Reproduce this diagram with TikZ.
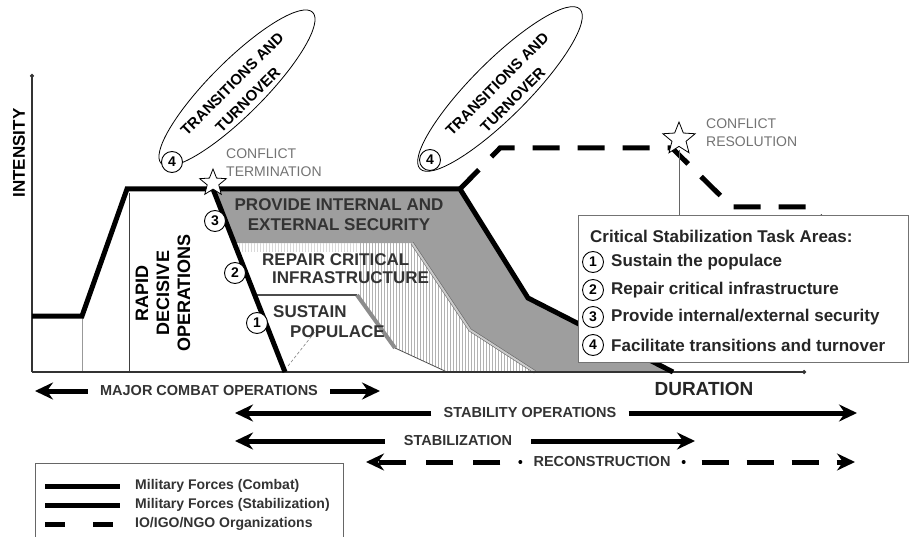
\documentclass[tikz,border=0pt]{standalone}
\usepackage{fontspec}
\setmainfont{Liberation Sans}
\usetikzlibrary{arrows.meta,shapes.geometric}

\tikzset{
  thickforce/.style={line width=5pt, line join=miter},
  ngoline/.style={line width=5pt, dash pattern=on 27pt off 18pt},
  numcirc/.style={circle, draw, line width=0.9pt, fill=white, inner sep=0pt, minimum size=21pt, font=\fontsize{14}{14}\selectfont\bfseries},
  bandtext/.style={font=\fontsize{17}{20}\selectfont\bfseries, text=black!80, align=center, inner sep=0pt},
  tto/.style={ellipse, draw, line width=0.8pt, rotate=45, minimum width=214pt, minimum height=54pt},
  ttotext/.style={rotate=45, align=center, font=\fontsize{15}{22}\selectfont\bfseries},
  conflict/.style={align=left, text=black!55, font=\fontsize{14}{18}\selectfont, anchor=west, inner sep=0pt},
  starmark/.style={star, star points=5, star point ratio=2.3, draw, line width=0.8pt, fill=white, inner sep=0pt},
  spanarrow/.style={line width=5pt, -{Stealth[length=18pt,width=17pt,inset=6pt]}},
  spanlabel/.style={font=\fontsize{14.5}{14.5}\selectfont\bfseries, text=black!80, inner xsep=12pt},
  keytext/.style={anchor=west, inner sep=0pt, font=\fontsize{17}{17}\selectfont\bfseries, text=black!85},
  forcetext/.style={anchor=west, inner sep=0pt, font=\fontsize{14}{14}\selectfont\bfseries, text=black!80},
}

\begin{document}
\begin{tikzpicture}[x=1pt, y=-1pt]
    \useasboundingbox (0,0) rectangle (909,537);

    % task bands
    \fill[black!38] (213,189) -- (460,189) -- (528,298) -- (673,372) -- (535,372) -- (470,330) -- (412,243) -- (234,243) -- cycle;
    \begin{scope}
        \clip (234,243) -- (412,243) -- (470,330) -- (535,372) -- (447,372) -- (395,348) -- (357,295) -- (255,295) -- cycle;
        \foreach \x in {360,363,...,536}
            \draw[black!30, line width=0.6pt] (\x,240) -- (\x,375);
        \foreach \x in {236,239,...,358}
            \draw[black!15, line width=0.5pt] (\x,243) -- (\x,252);
    \end{scope}
    \draw[draw=black!60, double=black!20, double distance=2pt, line width=0.6pt] (412,243) -- (470,330) -- (535,372);
    \fill[white] (255,295) -- (357,295) -- (395,348) -- (447,372) -- (285,372) -- cycle;
    \draw[black!70, line width=1.2pt] (255,295) -- (357,295);
    \draw[black!45, line width=4pt] (357,295) -- (395,348);
    \draw[black!70, line width=0.8pt] (395,348) -- (447,372);
    \draw[black!50, densely dashed, line width=0.6pt] (288,366) -- (318,328);

    % axes
    \coordinate (origin) at (32,372);
    \coordinate (ytop) at (32,74);
    \coordinate (xend) at (806,372);
    \draw[black!40, line width=0.8pt] (82,318) -- (82,372);
    \draw[black!75, line width=0.9pt] (129,193) -- (129,372);
    \draw[line width=1.2pt, black!80, -{Circle[length=4pt]}] (origin) -- (ytop);
    \draw[line width=1.2pt, black!80, -{Circle[length=4pt]}] (origin) -- (xend);
    \node[rotate=90, font=\fontsize{17}{17}\selectfont\bfseries] (intensity) at (19,153) {INTENSITY};
    \node[font=\fontsize{19}{19}\selectfont\bfseries, text=black!85] (duration) at (704,389) {DURATION};

    % forces
    \draw[thickforce] (32,316) -- (82,316) -- (127,189) -- (213,189) -- (285,372);
    \draw[thickforce] (213,189) -- (460,189) -- (528,298) -- (673,372);
    \draw[ngoline] (460,189) -- (500,148) -- (672,148) -- (732,207) -- (812,207) -- (840,240);

    % conflict marks
    \coordinate (resfoot) at (679,300);
    \draw[black!60, line width=0.8pt] (679,150) -- (resfoot);
    \node[starmark, minimum size=28pt] (cterm) at (213,183) {};
    \node[starmark, minimum size=34pt] (cres) at (679,139) {};
    \node[conflict] (ctermlabel) at (226,163) {CONFLICT\\TERMINATION};
    \node[conflict] (creslabel) at (706,133) {CONFLICT\\RESOLUTION};

    % transitions and turnover
    \node[tto] (tto1) at (237,88) {};
    \node[ttotext] (ttotext1) at (240,92) {TRANSITIONS AND\\TURNOVER};
    \node[numcirc] (four1) at (172,162) {4};
    \node[tto, minimum width=226pt, minimum height=56pt] (tto2) at (500,89) {};
    \node[ttotext] (ttotext2) at (505,92) {TRANSITIONS AND\\TURNOVER};
    \node[numcirc] (four2) at (430,160) {4};

    % band labels
    \node[numcirc] (three) at (215,221) {3};
    \node[numcirc] (two) at (235,273) {2};
    \node[numcirc] (one) at (257,323) {1};
    \node[bandtext] (security) at (339,215) {PROVIDE INTERNAL AND\\EXTERNAL SECURITY};
    \node[bandtext, align=left, anchor=west, font=\fontsize{17}{18}\selectfont\bfseries] (infra) at (262,269) {REPAIR CRITICAL\\\hspace{10pt}INFRASTRUCTURE};
    \node[bandtext, align=left, anchor=west] (populace) at (273,322) {SUSTAIN\\\hspace{17pt}POPULACE};
    \node[rotate=90, align=center, font=\fontsize{18}{21}\selectfont\bfseries] (rdo) at (163,293) {RAPID\\DECISIVE\\OPERATIONS};

    % task key
    \node[draw=black!55, line width=1pt, fill=white, minimum width=330pt, minimum height=147pt, anchor=north west, inner sep=0pt] (tasks) at (578,215) {};
    \node[keytext] (taskstitle) at (590,236) {Critical Stabilization Task Areas:};
    \node[numcirc] (k1) at (593,262) {1};
    \node[keytext] at (611,262) {Sustain the populace};
    \node[numcirc] (k2) at (593,290) {2};
    \node[keytext] at (611,290) {Repair critical infrastructure};
    \node[numcirc] (k3) at (593,317) {3};
    \node[keytext] at (611,317) {Provide internal/external security};
    \node[numcirc] (k4) at (593,345) {4};
    \node[keytext] at (611,345) {Facilitate transitions and turnover};

    % spans
    \node[spanlabel] (mco) at (209,391) {MAJOR COMBAT OPERATIONS};
    \coordinate (mcoL) at (35,391);
    \coordinate (mcoR) at (380,391);
    \draw[spanarrow] (mco.west) -- (mcoL);
    \draw[spanarrow] (mco.east) -- (mcoR);
    \node[spanlabel] (sto) at (530,413) {STABILITY OPERATIONS};
    \coordinate (stoL) at (235,413);
    \coordinate (stoR) at (857,413);
    \draw[spanarrow] (sto.west) -- (stoL);
    \draw[spanarrow] (sto.east) -- (stoR);
    \node[spanlabel, inner xsep=19pt] (stab) at (458,441) {STABILIZATION};
    \coordinate (stabL) at (235,441);
    \coordinate (stabR) at (695,441);
    \draw[spanarrow] (stab.west) -- (stabL);
    \draw[spanarrow] (stab.east) -- (stabR);
    \node[spanlabel, inner xsep=13pt] (rec) at (602,462) {RECONSTRUCTION};
    \coordinate (recL) at (366,462);
    \coordinate (recR) at (855,462);
    \fill (rec.west) circle (2pt);
    \fill (rec.east) circle (2pt);
    \draw[spanarrow, dash pattern=on 27pt off 20pt, dash phase=27pt] (rec.west) -- (recL);
    \draw[spanarrow, dash pattern=on 27pt off 18pt, dash phase=27pt] (rec.east) -- (recR);

    % forces key
    \node[draw=black!60, line width=1.2pt, minimum width=308pt, minimum height=90pt, anchor=north west, inner sep=0pt] (forces) at (35,463) {};
    \draw[line width=5pt] (45,486) -- (120,486);
    \draw[line width=5pt] (45,505) -- (120,505);
    \draw[line width=5pt, dash pattern=on 20pt off 28pt] (45,524) -- (118,524);
    \node[forcetext] at (135,486) {Military Forces (Combat)};
    \node[forcetext] at (135,505) {Military Forces (Stabilization)};
    \node[forcetext] at (135,524) {IO/IGO/NGO Organizations};
\end{tikzpicture}
\end{document}
